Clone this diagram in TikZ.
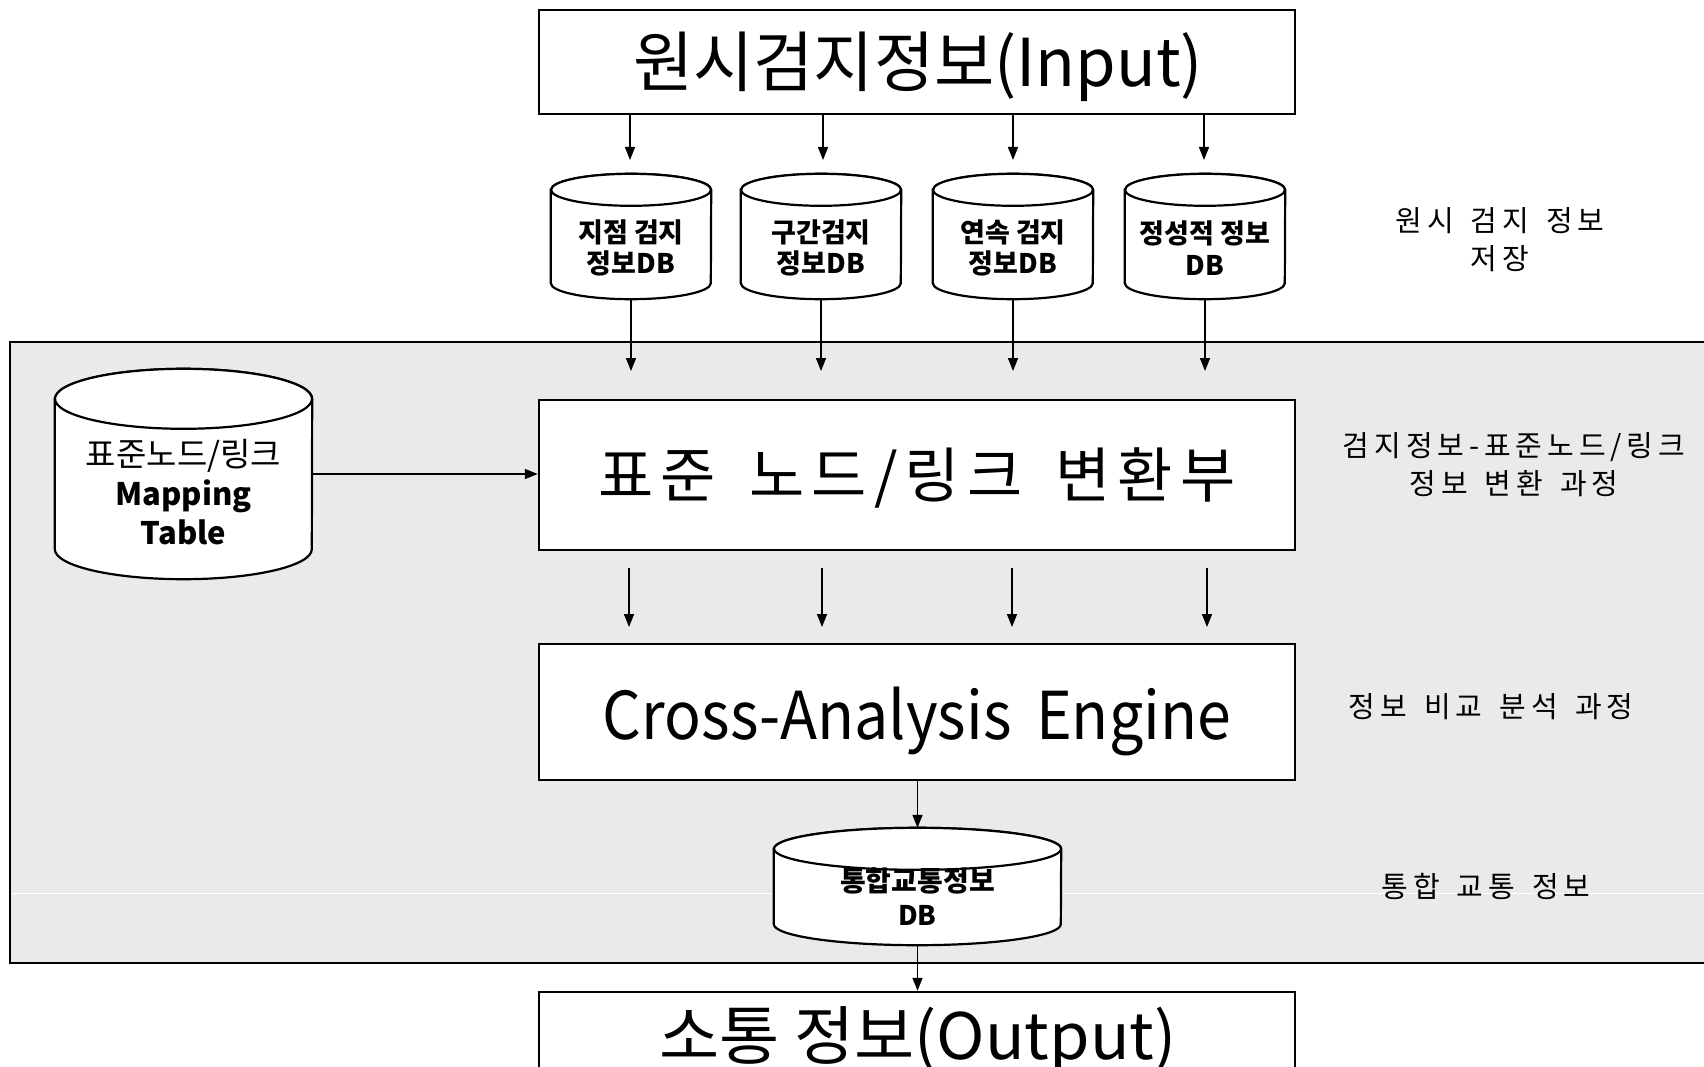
\documentclass[tikz,border=0pt]{standalone}
\usepackage{fontspec}
\usepackage{graphicx}
\setmainfont{Noto Sans CJK KR}
\newfontfamily\krside[LetterSpace=17,WordSpace=1.5]{Noto Sans CJK KR}
\newfontfamily\krbig[LetterSpace=12,WordSpace=1.6]{Noto Sans CJK KR}
\newfontfamily\krwide[WordSpace=1.8]{Noto Sans CJK KR}
\usetikzlibrary{arrows.meta,calc}
\definecolor{panel}{RGB}{234,234,234}
\newcommand\fitw[2]{\resizebox{#1}{\height}{#2}}
\tikzset{
  box/.style={draw=black, line width=2.5pt, fill=white, inner sep=0pt, minimum width=756pt},
  arr/.style={line width=1.6pt, -{Triangle[length=13pt,width=10pt]}},
  cylline/.style={draw=black, line width=2.2pt, fill=white},
  dbtext/.style={font=\bfseries\fontsize{27}{31.5}\selectfont, align=center, inner sep=0pt},
  sidelabel/.style={font=\fontsize{29}{38}\selectfont\krside, align=center, inner sep=0pt},
  boxtext/.style={inner sep=0pt},
}
\newcommand\dbcyl[6]{%
  \node[inner sep=0pt, minimum width=#4pt, minimum height=#5pt] (#1) at (#2,#3) {};
  \draw[cylline] ($(#1.north west)+(0,-#6)$) -- ($(#1.south west)+(0,#6)$)
     arc[start angle=180, end angle=360, x radius={0.5pt*#4}, y radius={#6pt}]
     -- ($(#1.north east)+(0,-#6)$)
     arc[start angle=0, end angle=180, x radius={0.5pt*#4}, y radius={#6pt}] -- cycle;
  \draw[cylline] ($(#1.north)+(0,-#6)$) ellipse[x radius={0.5pt*#4}, y radius={#6pt}];
}
\begin{document}
\begin{tikzpicture}[x=1pt,y=1pt]
\useasboundingbox (0,0) rectangle (1704,-1067);
\clip (0,0) rectangle (1704,-1067);
\fill[white] (0,0) rectangle (1704,-1067);

% panel
\fill[panel] (10,-342) rectangle (1712,-963);
\draw[line width=2.5pt] (1712,-342) -- (10,-342) -- (10,-963) -- (1712,-963);
\draw[white, line width=0.8pt] (12,-893) -- (1704,-893);

% input
\node[box, minimum height=104pt] (inp) at (917,-62) {};
\node[boxtext] (inpt) at (918,-67)
  {\fitw{570pt}{\fontsize{66}{70}\selectfont 원시검지정보(Input)}};

% top cylinders
\dbcyl{c1}{631}{-236.5}{160}{125}{16}
\dbcyl{c2}{821}{-236.5}{160}{125}{16}
\dbcyl{c3}{1013}{-236.5}{160}{125}{16}
\dbcyl{c4}{1205}{-236.5}{160}{125}{16}
\node[dbtext] (t1) at (631,-248) {지점 검지\\정보DB};
\node[dbtext] (t2) at (821,-248) {구간검지\\정보DB};
\node[dbtext] (t3) at (1013,-248) {연속 검지\\정보DB};
\node[dbtext] (t4) at (1205,-248) {정성적 정보\\DB};

\coordinate (a1) at (630,-160);
\coordinate (a2) at (823,-160);
\coordinate (a3) at (1013,-160);
\coordinate (a4) at (1204,-160);
\foreach \i in {1,2,3,4} \draw[arr] (inp.south -| a\i) -- (a\i);

\coordinate (b1) at (631,-371);
\coordinate (b2) at (821,-371);
\coordinate (b3) at (1013,-371);
\coordinate (b4) at (1205,-371);
\foreach \i in {1,2,3,4} \draw[arr] (c\i.south) -- (b\i);

% mapping table
\dbcyl{map}{183.5}{-474}{257}{210}{30}
\node[inner sep=0pt, align=center, font=\fontsize{31}{39}\selectfont] (mt) at (183.5,-492)
  {{\fontsize{33}{39}\selectfont 표준노드/링크}\\\textbf{Mapping}\\\textbf{Table}};

% conversion box
\node[box, minimum height=150pt] (conv) at (917,-475) {};
\node[boxtext] (convt) at (917,-478)
  {\fitw{637pt}{\fontsize{60}{70}\selectfont\krbig 표준 노드/링크 변환부}};
\draw[arr] (map.east) -- (map.east -| conv.west);

% middle arrows
\coordinate (m1) at (629,-568); \coordinate (n1) at (629,-627);
\coordinate (m2) at (822,-568); \coordinate (n2) at (822,-627);
\coordinate (m3) at (1012,-568); \coordinate (n3) at (1012,-627);
\coordinate (m4) at (1207,-568); \coordinate (n4) at (1207,-627);
\foreach \i in {1,2,3,4} \draw[arr] (m\i) -- (n\i);

% cross analysis
\node[box, minimum height=136pt] (cae) at (917,-712) {};
\node[boxtext] (caet) at (917,-721)
  {\fitw{628pt}{\fontsize{66}{70}\selectfont\krwide Cross-Analysis Engine}};

% integrated db
\dbcyl{db}{917.5}{-886.5}{287}{117}{21}
\node[dbtext, font=\bfseries\fontsize{27}{34}\selectfont] (dbt) at (917.5,-897)
  {{\fontsize{28}{34}\selectfont 통합교통정보}\\DB};
\draw[arr] (cae.south -| db.north) -- (db.north);

% output
\node[box, minimum height=80pt] (out) at (917,-1032) {};
\node[boxtext] (outt) at (918,-1040)
  {\fitw{517pt}{\fontsize{64}{70}\selectfont 소통 정보(Output)}};
\draw[arr] (db.south) -- (db.south |- out.north);

% side labels
\node[sidelabel] (l1) at (1500,-240) {원시 검지 정보\\저장};
\node[sidelabel] (l2) at (1514,-465) {검지정보-표준노드/링크\\정보 변환 과정};
\node[sidelabel] (l3) at (1491,-707) {정보 비교 분석 과정};
\node[sidelabel] (l4) at (1486,-886) {통합 교통 정보};
\end{tikzpicture}
\end{document}
